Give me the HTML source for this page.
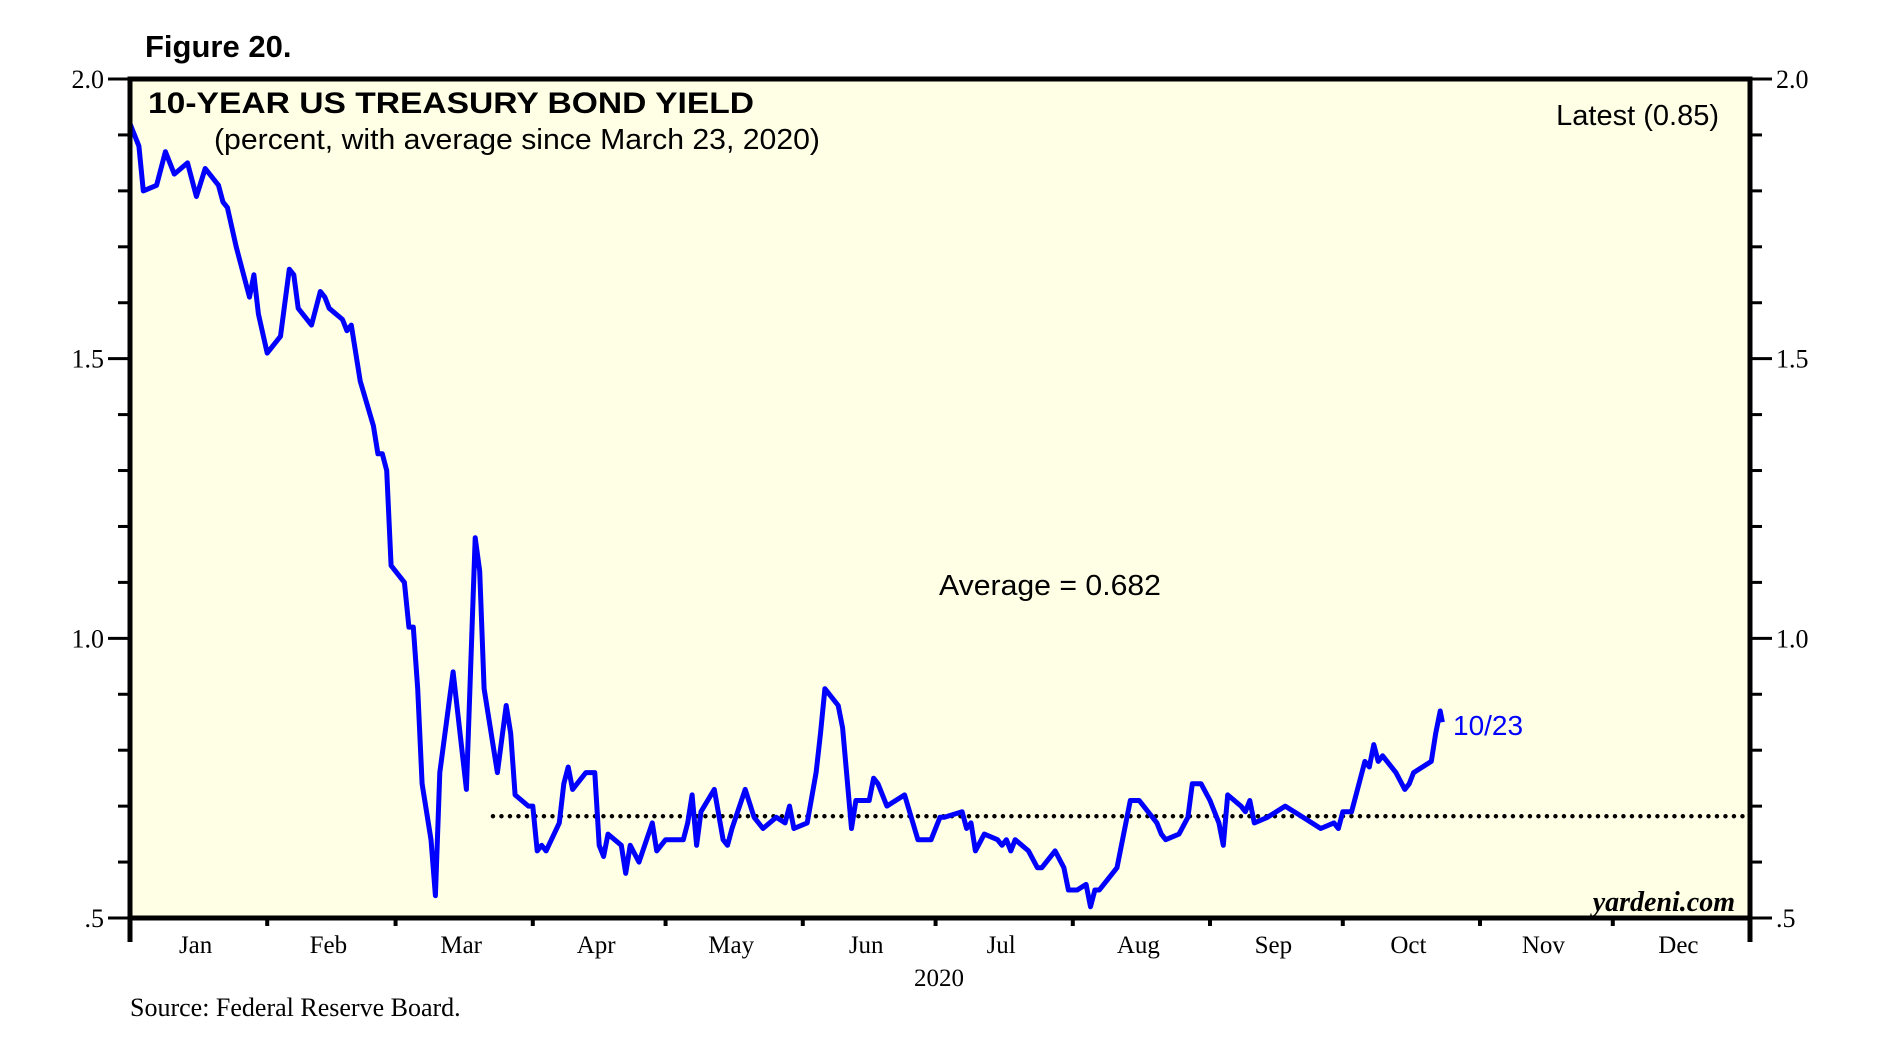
<!DOCTYPE html>
<html><head><meta charset="utf-8"><style>
html,body{margin:0;padding:0;background:#fff;}
svg{display:block;}
</style></head><body>
<svg id="chart" width="1887" height="1054" viewBox="0 0 1887 1054" xmlns="http://www.w3.org/2000/svg">
<text x="145" y="57" font-family="Liberation Sans, sans-serif" font-weight="bold" font-size="31">Figure 20.</text>
<rect x="130" y="79" width="1620" height="839" fill="#ffffe6"/>
<g id="marks"></g>
<rect x="130" y="79" width="1620" height="839" fill="none" stroke="#000" stroke-width="5"/>
<line x1="130" y1="918" x2="130" y2="942" stroke="#000" stroke-width="5"/>
<line x1="1750" y1="918" x2="1750" y2="942" stroke="#000" stroke-width="5"/>
<g id="axes"></g>
<text x="148" y="113" font-family="Liberation Sans, sans-serif" font-weight="bold" font-size="30" textLength="606" lengthAdjust="spacingAndGlyphs">10-YEAR US TREASURY BOND YIELD</text>
<text x="214" y="149" font-family="Liberation Sans, sans-serif" font-size="29" textLength="606" lengthAdjust="spacingAndGlyphs">(percent, with average since March 23, 2020)</text>
<text x="1719" y="125" text-anchor="end" font-family="Liberation Sans, sans-serif" font-size="29">Latest (0.85)</text>
<text x="939" y="595" font-family="Liberation Sans, sans-serif" font-size="29" textLength="222" lengthAdjust="spacingAndGlyphs">Average = 0.682</text>
<text x="1453" y="735" font-family="Liberation Sans, sans-serif" font-size="28" fill="#0000ff">10/23</text>
<text x="1735" y="911" text-anchor="end" font-family="Liberation Serif, serif" font-style="italic" font-weight="bold" font-size="28">yardeni.com</text>
<text x="939" y="986" text-anchor="middle" font-family="Liberation Serif, serif" font-size="25">2020</text>
<text x="130" y="1016" font-family="Liberation Serif, serif" font-size="26">Source: Federal Reserve Board.</text>
</svg>
<script>
const days = [0,2,3,6,8,10,13,15,17,20,21,22,24,27,28,29,31,34,36,37,38,41,43,44,45,48,49,50,52,55,56,57,58,59,62,63,64,65,66,68,69,70,73,76,78,79,80,83,85,86,87,90,91,92,93,94,97,98,99,100,101,103,105,106,107,108,111,112,113,115,118,119,121,125,126,127,128,129,132,134,135,136,139,141,143,146,148,149,150,153,155,156,157,160,161,163,164,167,168,169,171,173,175,178,181,183,184,188,189,190,191,193,196,197,198,199,200,203,205,206,209,211,212,214,216,217,218,219,221,223,226,228,230,232,233,234,237,239,240,242,244,246,247,248,251,252,253,254,257,261,265,269,272,273,274,276,279,280,281,282,283,286,288,289,290,294,295,296,296.5];
const yields = [1.92,1.88,1.80,1.81,1.87,1.83,1.85,1.79,1.84,1.81,1.78,1.77,1.70,1.61,1.65,1.58,1.51,1.54,1.66,1.65,1.59,1.56,1.62,1.61,1.59,1.57,1.55,1.56,1.46,1.38,1.33,1.33,1.30,1.13,1.10,1.02,1.02,0.91,0.74,0.64,0.54,0.76,0.94,0.73,1.18,1.12,0.91,0.76,0.88,0.83,0.72,0.70,0.70,0.62,0.63,0.62,0.67,0.74,0.77,0.73,0.74,0.76,0.76,0.63,0.61,0.65,0.63,0.58,0.63,0.60,0.67,0.62,0.64,0.64,0.67,0.72,0.63,0.69,0.73,0.64,0.63,0.66,0.73,0.68,0.66,0.68,0.67,0.70,0.66,0.67,0.76,0.83,0.91,0.88,0.84,0.66,0.71,0.71,0.75,0.74,0.70,0.71,0.72,0.64,0.64,0.68,0.68,0.69,0.66,0.67,0.62,0.65,0.64,0.63,0.64,0.62,0.64,0.62,0.59,0.59,0.62,0.59,0.55,0.55,0.56,0.52,0.55,0.55,0.57,0.59,0.71,0.71,0.69,0.67,0.65,0.64,0.65,0.68,0.74,0.74,0.71,0.67,0.63,0.72,0.70,0.69,0.71,0.67,0.68,0.70,0.68,0.66,0.67,0.66,0.69,0.69,0.78,0.77,0.81,0.78,0.79,0.76,0.73,0.74,0.76,0.78,0.83,0.87,0.85];
const averageValue = 0.682;
const averageStartDay = 82;
const monthNames = ["Jan","Feb","Mar","Apr","May","Jun","Jul","Aug","Sep","Oct","Nov","Dec"];
const monthStartDays = [0,31,60,91,121,152,182,213,244,274,305,335,366];
const yMajorTicks = [2.0,1.5,1.0,0.5];
const yTickLabels = ["2.0","1.5","1.0",".5"];
const yMinorTicks = [1.9,1.8,1.7,1.6,1.4,1.3,1.2,1.1,0.9,0.8,0.7,0.6];

const L=130,R=1750,T=79,B=918,YMIN=0.5,YMAX=2.0,DMAX=366;
const xs = d => L + (R-L)*d/DMAX;
const ys = v => B - (B-T)*(v-YMIN)/(YMAX-YMIN);
const NS="http://www.w3.org/2000/svg";
const marks=document.getElementById('marks'), axes=document.getElementById('axes');
function mk(tag, attrs, parent){const e=document.createElementNS(NS,tag);for(const k in attrs)e.setAttribute(k,attrs[k]);parent.appendChild(e);return e;}

const avg=mk('line',{x1:xs(averageStartDay),x2:R,y1:ys(averageValue),y2:ys(averageValue),stroke:'#000','stroke-width':4.5,'stroke-dasharray':'0 8.5','stroke-linecap':'round'},marks);



const pts=days.map((d,i)=>xs(d).toFixed(1)+','+ys(yields[i]).toFixed(1)).join(' ');
const line=mk('polyline',{points:pts,fill:'none',stroke:'#0000ff','stroke-width':5,'stroke-linejoin':'round'},marks);



yMajorTicks.forEach((v,i)=>{
  const y=ys(v);
  const t1=mk('line',{x1:L-22,x2:L,y1:y,y2:y,stroke:'#000','stroke-width':3},axes);
  
  
  const t2=mk('line',{x1:R,x2:R+22,y1:y,y2:y,stroke:'#000','stroke-width':3},axes);
  
  
  const a=mk('text',{x:L-26,y:y+9,'text-anchor':'end','font-family':'Liberation Serif, serif','font-size':26},axes);
  a.textContent=yTickLabels[i];
  
  
  const b=mk('text',{x:R+26,y:y+9,'font-family':'Liberation Serif, serif','font-size':26},axes);
  b.textContent=yTickLabels[i];
  
  
});
yMinorTicks.forEach(v=>{
  const y=ys(v);
  const t1=mk('line',{x1:L-12,x2:L,y1:y,y2:y,stroke:'#000','stroke-width':3},axes);
  
  
  const t2=mk('line',{x1:R,x2:R+12,y1:y,y2:y,stroke:'#000','stroke-width':3},axes);
  
  
});
monthStartDays.forEach((d,i)=>{
  if(i>0 && i<monthStartDays.length-1){
    const t=mk('line',{x1:xs(d),x2:xs(d),y1:B,y2:B+8,stroke:'#000','stroke-width':4},axes);
    
    
  }
  if(i<monthNames.length){
    const c=(xs(d)+xs(monthStartDays[i+1]))/2-3;
    const m=mk('text',{x:c,y:953,'text-anchor':'middle','font-family':'Liberation Serif, serif','font-size':25},axes);
    m.textContent=monthNames[i];
    
    
  }
});
</script>
</body></html>
